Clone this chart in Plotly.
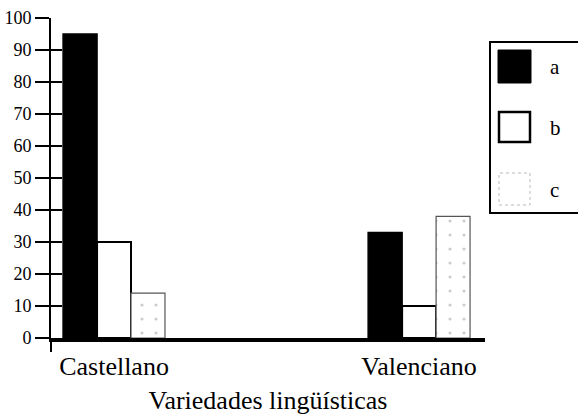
import plotly.graph_objects as go

categories = ["Castellano", "Valenciano"]
series_names = ["a", "b", "c"]
values_a = [95, 33]
values_b = [30, 10]
values_c = [14, 38]
y_ticks = [0, 10, 20, 30, 40, 50, 60, 70, 80, 90, 100]

FONT = "Liberation Serif, Times New Roman, serif"
W, H = 578, 418
L, R, T, B = 51, 93, 18, 80
PW, PH = W - L - R, H - T - B

def px(x):
    return (x - L) / PW

def py(y):
    return (H - B - y) / PH

fig = go.Figure()
fig.add_trace(go.Bar(x=categories, y=values_a, name=series_names[0],
                     marker=dict(color="black", line=dict(color="black", width=1.5))))
fig.add_trace(go.Bar(x=categories, y=values_b, name=series_names[1],
                     marker=dict(color="white", line=dict(color="black", width=2))))
fig.add_trace(go.Bar(x=categories, y=values_c, name=series_names[2],
                     marker=dict(color="white", line=dict(color="#555", width=1.2),
                                 pattern=dict(shape=".", fgcolor="#999", bgcolor="white",
                                              size=14, solidity=0.04))))

# invisible trace to host the inner tick marks on a second y axis
fig.add_trace(go.Scatter(x=[categories[0]], y=[0], yaxis="y2", mode="markers",
                         marker=dict(opacity=0), showlegend=False, hoverinfo="skip"))

fig.update_layout(
    width=W, height=H,
    margin=dict(l=L, r=R, t=T, b=B, autoexpand=False),
    paper_bgcolor="white", plot_bgcolor="white",
    barmode="group", bargap=0.666, bargroupgap=0,
    showlegend=False,
    font=dict(family=FONT, color="black"),
    xaxis=dict(
        range=[-0.2066, 1.216], automargin=False,
        showline=True, linecolor="black", linewidth=4,
        ticks="", showgrid=False, zeroline=False,
        tickfont=dict(size=26, family=FONT),
        ticklabelstandoff=2,
        title=dict(text="Variedades lingüísticas", font=dict(size=26, family=FONT), standoff=12),
    ),
    yaxis=dict(
        range=[0, 100], tickvals=y_ticks, automargin=False,
        showline=True, linecolor="black", linewidth=2,
        ticks="outside", ticklen=14, tickwidth=2, tickcolor="black",
        showgrid=False, zeroline=False,
        tickfont=dict(size=18, family=FONT),
        ticklabelstandoff=0,
    ),
    yaxis2=dict(
        range=[0, 100], tickvals=y_ticks, overlaying="y", side="left", automargin=False,
        ticks="inside", ticklen=11, tickwidth=2, tickcolor="black",
        showticklabels=False, showgrid=False, zeroline=False, showline=False,
    ),
)

shapes = []
# y axis stub below the baseline
shapes.append(dict(type="line", xref="paper", yref="paper",
                   x0=px(51), x1=px(51), y0=py(338), y1=py(352),
                   line=dict(color="black", width=2)))
# legend box
shapes.append(dict(type="rect", xref="paper", yref="paper",
                   x0=px(490), x1=px(600), y0=py(213), y1=py(42),
                   line=dict(color="black", width=2), fillcolor="white", layer="above"))
# swatches
shapes.append(dict(type="rect", xref="paper", yref="paper",
                   x0=px(498), x1=px(531), y0=py(83), y1=py(50),
                   line=dict(color="black", width=1), fillcolor="black"))
shapes.append(dict(type="rect", xref="paper", yref="paper",
                   x0=px(499), x1=px(530), y0=py(142), y1=py(112),
                   line=dict(color="black", width=2.5), fillcolor="white"))
shapes.append(dict(type="rect", xref="paper", yref="paper",
                   x0=px(499), x1=px(530), y0=py(205), y1=py(173),
                   line=dict(color="#bbb", width=1, dash="dot"), fillcolor="white"))
fig.update_layout(shapes=shapes)

label_y = [67, 128, 190]
for name, yy in zip(series_names, label_y):
    fig.add_annotation(xref="paper", yref="paper", x=px(548), y=py(yy),
                       text=name, showarrow=False, xanchor="left", yanchor="middle",
                       font=dict(size=21, family=FONT, color="black"))

fig.write_html("out.html", config={"displayModeBar": False},
               post_script="document.body.style.margin='0';document.body.style.overflow='hidden';")
